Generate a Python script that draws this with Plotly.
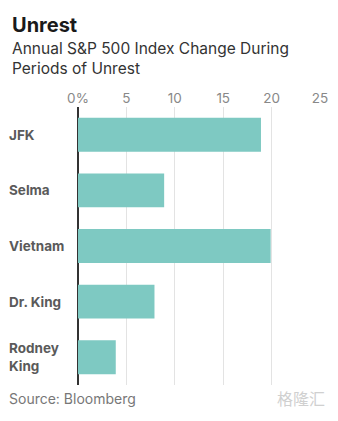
import plotly.graph_objects as go

categories = ["JFK", "Selma", "Vietnam", "Dr. King", "Rodney<br>King"]
values = [18.9, 8.9, 19.9, 7.9, 3.9]
tick_vals = [0, 5, 10, 15, 20, 25]
tick_text = ["0%", "5", "10", "15", "20", "25"]

title = "Unrest"
subtitle = "Annual S&P 500 Index Change During<br>Periods of Unrest"
source = "Source: Bloomberg"

FONT = "Inter, Open Sans, sans-serif"

fig = go.Figure()
fig.add_trace(go.Bar(
    x=values, y=categories, orientation="h",
    marker=dict(color="#7ec9c2", line=dict(width=0)),
    hoverinfo="x+y",
))

annotations = []
for c in categories:
    annotations.append(dict(
        x=0, xref="paper", xshift=-71, y=c, yref="y",
        text="<b>" + c + "</b>", showarrow=False,
        xanchor="left", yanchor="middle", align="left",
        font=dict(family=FONT, size=13.5, color="#5a5a5a"),
    ))

annotations += [
    dict(x=8, y=421 - 11, xref="paper", yref="paper", text="<b>" + title + "</b>",
         showarrow=False, xanchor="left", yanchor="top",
         font=dict(family=FONT, size=20, color="#1a1a1a")),
    dict(x=8, y=421 - 37, xref="paper", yref="paper", text=subtitle,
         showarrow=False, xanchor="left", yanchor="top", align="left",
         font=dict(family=FONT, size=15.5, color="#333333")),
    dict(x=5, y=421 - 409, xref="paper", yref="paper", text=source,
         showarrow=False, xanchor="left", yanchor="bottom",
         font=dict(family=FONT, size=14, color="#777777")),
    dict(x=334, y=421 - 412, xref="paper", yref="paper", text="格隆汇",
         showarrow=False, xanchor="right", yanchor="bottom",
         font=dict(family="Noto Sans CJK SC", size=16, color="#d0d0d0")),
]

# convert pixel positions to paper coords for the text annotations
W, H = 338, 421
ML, MR, MT, MB = 78, 10, 107, 36
pw, ph = W - ML - MR, H - MT - MB
for a in annotations:
    if a.get("xref") == "paper" and a.get("yref") == "paper":
        a["x"] = (a["x"] - ML) / pw
        a["y"] = (a["y"] - MB) / ph

fig.update_layout(
    width=W, height=H,
    margin=dict(l=ML, r=MR, t=MT, b=MB),
    paper_bgcolor="white", plot_bgcolor="white",
    showlegend=False, bargap=0.39,
    font=dict(family=FONT),
    annotations=annotations,
    xaxis=dict(
        side="top", range=[0, 25.1], tickvals=tick_vals, ticktext=tick_text,
        showgrid=True, gridcolor="#e3e3e3", gridwidth=1,
        zeroline=True, zerolinecolor="#333333", zerolinewidth=2,
        tickfont=dict(family=FONT, size=13.5, color="#888888"),
        ticks="", showline=False, fixedrange=True,
    ),
    yaxis=dict(
        autorange="reversed", showticklabels=False, showgrid=False,
        zeroline=False, showline=False, fixedrange=True,
    ),
)

fig.write_html("out.html")
